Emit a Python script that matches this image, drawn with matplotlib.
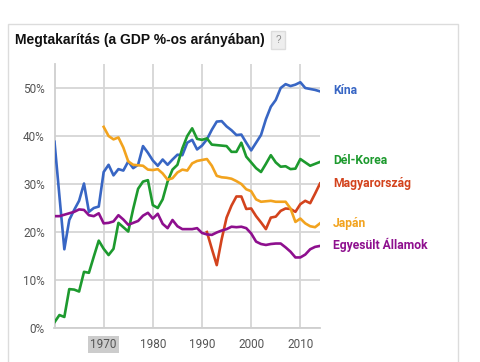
import matplotlib
matplotlib.use("Agg")
import matplotlib.pyplot as plt
from matplotlib.patches import Rectangle

years_all = list(range(1960, 2015))
china = [38.8, 27.5, 16.4, 22.5, 24.6, 26.5, 30.1, 24.2, 25.0, 25.3,
         32.5, 34.0, 31.8, 33.1, 32.8, 34.7, 33.3, 34.0, 37.9, 36.5,
         34.9, 33.8, 35.1, 34.0, 35.1, 36.1, 36.0, 38.6, 39.2, 37.2,
         38.0, 39.3, 41.3, 43.0, 43.1, 42.0, 41.2, 40.2, 40.3, 38.6,
         37.0, 38.6, 40.2, 43.5, 46.1, 47.5, 50.0, 50.8, 50.4, 50.7,
         51.2, 50.0, 49.8, 49.6, 49.3]
korea = [1.2, 2.7, 2.3, 8.1, 8.0, 7.6, 11.7, 11.5, 14.9, 18.2,
         16.5, 15.2, 16.5, 21.9, 21.0, 20.1, 24.8, 29.0, 30.5, 30.8,
         25.6, 25.0, 26.8, 30.5, 33.0, 34.0, 37.4, 40.0, 41.6, 39.4,
         39.2, 39.5, 38.2, 38.1, 38.0, 37.9, 36.7, 36.7, 38.6, 35.7,
         34.5, 33.3, 32.5, 34.2, 36.0, 34.5, 33.6, 33.7, 33.1, 33.2,
         35.2, 34.5, 33.8, 34.2, 34.6]
years_jp = list(range(1970, 2015))
japan = [41.9, 40.0, 39.3, 39.7, 37.6, 34.7, 34.0, 33.9, 33.8, 33.0,
         32.9, 33.1, 32.2, 30.9, 31.2, 32.4, 33.0, 32.8, 34.3, 34.8,
         35.0, 35.2, 33.8, 31.7, 31.4, 31.3, 31.1, 30.6, 30.0, 28.9,
         28.5, 26.8, 26.3, 26.4, 26.5, 26.3, 26.3, 26.3, 24.9, 22.1,
         22.8, 21.8, 21.2, 21.0, 21.8]
years_hu = list(range(1991, 2015))
hungary = [20.0, 16.5, 13.1, 18.5, 23.0, 25.5, 27.4, 27.4, 24.8, 24.9,
           23.3, 22.0, 20.6, 23.0, 23.2, 24.4, 24.9, 24.8, 24.2, 25.8,
           26.5, 26.0, 28.0, 30.1]
usa = [23.3, 23.3, 23.6, 23.9, 24.2, 24.7, 24.6, 23.5, 23.3, 23.9,
       21.8, 21.9, 22.2, 23.5, 22.6, 21.5, 21.9, 22.3, 23.4, 24.0,
       22.8, 23.8, 21.7, 20.8, 22.5, 21.2, 20.6, 20.6, 20.6, 20.8,
       19.8, 19.5, 19.4, 19.9, 20.3, 20.6, 21.1, 21.0, 21.1, 20.8,
       19.7, 18.0, 17.5, 17.3, 17.5, 17.6, 17.6, 16.8, 15.9, 14.7,
       14.7, 15.3, 16.4, 16.9, 17.1]

labels = ["Kína", "Dél-Korea", "Magyarország", "Japán", "Egyesült Államok"]
colors = ["#3866c4", "#1d9a2e", "#d3431d", "#f2a31e", "#8e0f8e"]
label_y = [49.5, 35.0, 30.0, 21.8, 17.4]
yticks = [0, 10, 20, 30, 40, 50]
ytick_labels = ["0%", "10%", "20%", "30%", "40%", "50%"]
xticks = [1970, 1980, 1990, 2000, 2010]

fig = plt.figure(figsize=(4.8, 3.62), dpi=100)
fig.patch.set_facecolor("white")
ax = fig.add_axes([54.5/480, 1-328/362, 265.5/480, 264/362])

series = [(years_all, china), (years_all, korea), (years_hu, hungary),
          (years_jp, japan), (years_all, usa)]
for (xs, ys), c in zip(series, colors):
    ax.plot(xs, ys, color=c, lw=1.9, solid_joinstyle="round", zorder=3)

ax.set_xlim(1960, 2014)
ax.set_ylim(0, 55)
ax.set_yticks(yticks)
ax.set_yticklabels(ytick_labels)
ax.set_xticks(xticks)
ax.set_xticklabels([str(x) for x in xticks])
ax.grid(True, color="#d6d6d6", lw=1.3, zorder=0)
ax.tick_params(length=0, labelsize=8.5, labelcolor="#555555", pad=7)
for lab in ax.get_xticklabels() + ax.get_yticklabels():
    lab.set_fontfamily("Roboto")
for s in ["top", "right"]:
    ax.spines[s].set_visible(False)
for s in ["left", "bottom"]:
    ax.spines[s].set_color("#cfcfcf")
    ax.spines[s].set_linewidth(1.3)
ax.get_xticklabels()[0].set_bbox(dict(facecolor="#cccccc", edgecolor="none", pad=1.5))

for lab, c, yv in zip(labels, colors, label_y):
    ax.annotate(lab, xy=(1, yv), xycoords=("axes fraction", "data"),
                xytext=(9.5, 0), textcoords="offset points", va="center",
                ha="left", color=c, fontweight="bold", fontsize=8.7,
                fontfamily="Roboto", annotation_clip=False)

fig.add_artist(Rectangle((8/480, -0.05), 450/480, 1.05 - 24/362,
                         transform=fig.transFigure, fill=False,
                         edgecolor="#dcdcdc", lw=1.0))
fig.text(15/480, 1-40/362, "Megtakarítás (a GDP %-os arányában)",
         fontsize=10, fontweight="bold", fontfamily="Liberation Sans",
         va="center", ha="left", color="#111111")
fig.text(278/480, 1-40/362, "?", fontsize=7, color="#888888",
         fontfamily="Liberation Sans", va="center", ha="center",
         bbox=dict(facecolor="#eeeeee", edgecolor="#dddddd", pad=3.0))

fig.savefig("out.png", dpi=100, facecolor="white")
